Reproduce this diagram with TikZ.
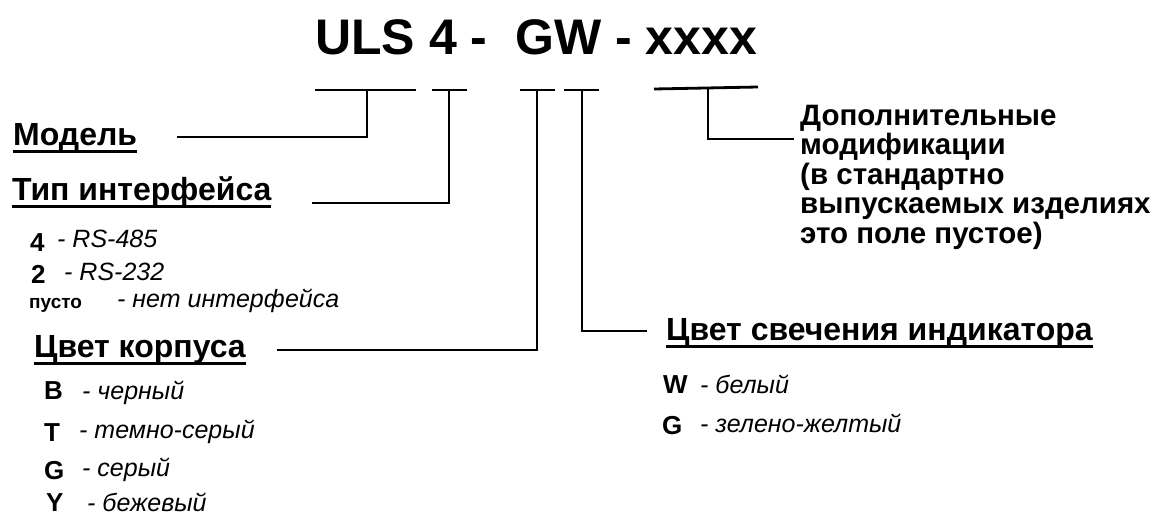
\documentclass[tikz,border=0pt]{standalone}
\usepackage{fontspec}
\setmainfont{Liberation Sans}
\usetikzlibrary{positioning}
% underline used for the field headings
\newcommand{\ulhead}[1]{\setbox0=\hbox{#1}\rlap{\rule[-7.6pt]{\wd0}{2.6pt}}\box0}
\begin{document}
\begin{tikzpicture}[
        x=1pt, y=-1pt,
        codetext/.style={inner sep=0pt, anchor=base west, font=\bfseries\fontsize{50}{50}\selectfont},
        fieldhead/.style={inner sep=0pt, anchor=base west, font=\bfseries\fontsize{32}{32}\selectfont},
        keyletter/.style={inner sep=0pt, anchor=base west, font=\bfseries\fontsize{26}{26}\selectfont},
        keynote/.style={inner sep=0pt, anchor=base west, font=\itshape\fontsize{25}{25}\selectfont},
        bar/.style={line width=2.8pt},
        link/.style={line width=2.6pt}
    ]
        \useasboundingbox (0,0) rectangle (1161,516);
        % Product code
        \node (code) [codetext] at (315,55) {ULS 4 -\ \ GW - xxxx};

        % Bars under the code
        \coordinate (m1) at (315,90);  \coordinate (m2) at (416,90);  \coordinate (mtap) at (367,90);
        \coordinate (i1) at (432,90);  \coordinate (i2) at (467,90);  \coordinate (itap) at (449,90);
        \coordinate (b1) at (520,90);  \coordinate (b2) at (555,90);  \coordinate (btap) at (537,90);
        \coordinate (w1) at (564,90);  \coordinate (w2) at (599,90);  \coordinate (wtap) at (582,90);
        \coordinate (x1) at (654,89);  \coordinate (x2) at (758,87);  \coordinate (xtap) at (708,88);
        \draw [bar] (m1) -- (m2);
        \draw [bar] (i1) -- (i2);
        \draw [bar] (b1) -- (b2);
        \draw [bar] (w1) -- (w2);
        \draw [bar] (x1) -- (x2);

        % Field headings
        \node (model) [fieldhead] at (13,145) {\ulhead{Модель}};
        \node (iface) [fieldhead] at (12,200) {\ulhead{Тип интерфейса}};
        \node (body) [fieldhead] at (34,357) {\ulhead{Цвет корпуса}};
        \node (led) [fieldhead] at (666,340) {\ulhead{Цвет свечения индикатора}};
        % base of a multi-line node is its last line
        \node (extra) [fieldhead, align=left, font=\bfseries\fontsize{29.5}{29.6}\selectfont] at (800,243.4)
            {Дополнительные\\модификации\\(в стандартно\\выпускаемых изделиях\\это поле пустое)};

        % Connector ends
        \coordinate (mend) at (177,137);
        \coordinate (iend) at (312,203);
        \coordinate (bend) at (277,350);
        \coordinate (wend) at (647,331);
        \coordinate (xend) at (794,139);
        \draw [link] (mtap) |- (mend);
        \draw [link] (itap) |- (iend);
        \draw [link] (btap) |- (bend);
        \draw [link] (wtap) |- (wend);
        \draw [link] (xtap) |- (xend);

        % Interface options
        \node (i4) [keyletter] at (30,251) {4};
        \node (i4n) [keynote] at (57,247) {- RS-485};
        \node (i2k) [keyletter] at (31,283) {2};
        \node (i2n) [keynote] at (64,280) {- RS-232};
        \node (i0) [keyletter, font=\bfseries\fontsize{19}{19}\selectfont] at (29,308) {пусто};
        \node (i0n) [keynote] at (117,307) {- нет интерфейса};

        % Body colours
        \node (cb) [keyletter] at (44,399) {B};
        \node (cbn) [keynote] at (82,399) {- черный};
        \node (ct) [keyletter] at (44,441) {T};
        \node (ctn) [keynote] at (79,438) {- темно-серый};
        \node (cg) [keyletter] at (44,479) {G};
        \node (cgn) [keynote] at (82,476) {- серый};
        \node (cy) [keyletter] at (46,511) {Y};
        \node (cyn) [keynote] at (87,511) {- бежевый};

        % Indicator colours
        \node (lw) [keyletter] at (663,393) {W};
        \node (lwn) [keynote] at (700,393) {- белый};
        \node (lg) [keyletter] at (662,434) {G};
        \node (lgn) [keynote] at (700,432) {- зелено-желтый};
    \end{tikzpicture}
\end{document}
